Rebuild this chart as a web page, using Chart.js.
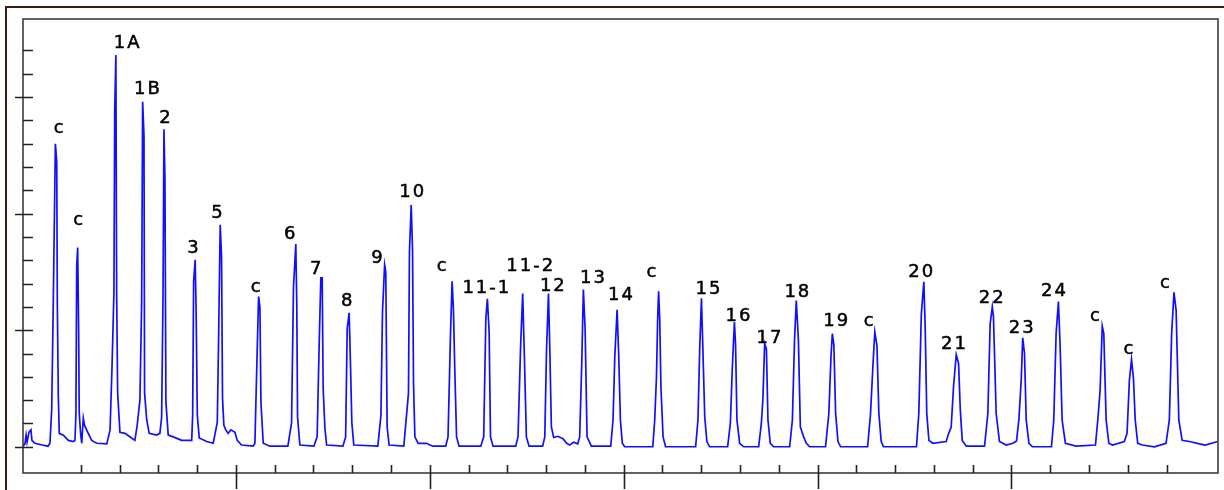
<!DOCTYPE html>
<html>
<head>
<meta charset="utf-8">
<script src="https://cdn.jsdelivr.net/npm/chart.js@4.4.1/dist/chart.umd.min.js"></script>
<style>
  html, body { margin: 0; padding: 0; background: #fff; }
  #wrap { width: 1224px; height: 490px; position: relative; }
</style>
</head>
<body>
<div id="wrap"><canvas id="myChart"></canvas></div>
<script>
// chromatogram trace: time (min) and detector signal
const traceTime = [
  -0.98, -0.88, -0.82, -0.77, -0.67, -0.57, -0.52, -0.36, 0, 0.31,
  0.41, 0.50, 0.58, 0.69, 0.76, 0.79, 0.84, 0.89, 1.10, 1.36, 1.61,
  1.70, 1.75, 1.79, 1.84, 1.89, 1.92, 1.99, 2.05, 2.13, 2.19, 2.30, 2.56, 2.82, 3.34,
  3.51, 3.61, 3.71, 3.75, 3.81, 3.85, 3.90, 4.02, 4.28, 4.62, 4.79,
  4.91, 5.05, 5.14, 5.19, 5.26, 5.29, 5.40, 5.53, 5.91, 6.08,
  6.17, 6.24, 6.29, 6.34, 6.39, 6.51, 6.77, 7.20, 7.63,
  7.72, 7.77, 7.82, 7.90, 7.95, 8.01, 8.11, 8.49, 8.83,
  9.04, 9.11, 9.19, 9.26, 9.31, 9.38, 9.48, 9.60, 9.74, 9.95, 10.07, 10.29, 10.89,
  10.98, 11.07, 11.17, 11.24, 11.29, 11.41, 11.75, 12.68,
  12.87, 12.97, 13.09, 13.14, 13.18, 13.30, 14.02,
  14.19, 14.29, 14.38, 14.45, 14.50, 14.59, 14.68, 15.52,
  15.66, 15.74, 15.84, 15.91, 15.98, 16.08, 17.32,
  17.48, 17.56, 17.67, 17.73, 17.80, 17.90, 18.66,
  18.90, 18.95, 19.04, 19.11, 19.16, 19.23, 19.40, 19.83, 20.15, 20.82,
  20.94, 21.07, 21.15, 21.22, 21.29, 21.38, 21.51, 22.63,
  22.78, 22.89, 22.97, 23.06, 23.13, 23.26, 24.43,
  24.55, 24.68, 24.79, 24.88, 24.98, 25.12, 25.82,
  25.93, 26.02, 26.12, 26.19, 26.27, 26.39, 26.60, 26.87, 27.06, 27.22, 27.42, 27.63,
  27.73, 27.84, 27.92, 28.01, 28.11, 28.33, 29.33,
  29.45, 29.54, 29.66, 29.74, 29.83, 29.93, 30.05, 31.50,
  31.60, 31.69, 31.75, 31.80, 31.86, 31.92, 32.03, 32.16, 33.71,
  33.83, 33.92, 34.01, 34.09, 34.18, 34.29, 34.43, 35.36,
  35.50, 35.60, 35.71, 35.77, 35.84, 35.98, 36.19, 36.96,
  37.10, 37.18, 37.27, 37.36, 37.44, 37.56, 37.73, 38.56,
  38.70, 38.81, 38.90, 39.01, 39.11, 39.28, 39.42, 39.59, 40.41,
  40.58, 40.69, 40.76, 40.84, 40.93, 41.05, 41.19, 42.58,
  42.73, 42.85, 42.95, 43.06, 43.16, 43.28, 43.40, 45.10,
  45.22, 45.35, 45.48, 45.55, 45.63, 45.74, 45.94, 46.63,
  46.76, 46.89, 47.01, 47.15, 47.27, 47.36, 47.46, 47.67, 48.61,
  48.78, 48.90, 49.01, 49.07, 49.21, 49.38, 49.73, 50.07, 50.26,
  50.38, 50.50, 50.58, 50.67, 50.76, 50.90, 51.08, 52.06,
  52.18, 52.30, 52.42, 52.51, 52.61, 52.78, 53.33, 54.33,
  54.45, 54.57, 54.68, 54.76, 54.88, 55.02, 55.21, 55.82,
  55.96, 56.08, 56.19, 56.29, 56.38, 56.51, 56.75, 57.37, 57.97,
  58.14, 58.26, 58.38, 58.49, 58.63, 58.80, 59.18, 59.69, 60.00, 60.63
];
const traceSignal = [
  0.1, 0.5, 2.0, 0.8, 2.5, 2.9, 1.1, 0.6, 0.3, 0.1,
  0.6, 6.3, 24.3, 52.0, 48.9, 24.6, 8.9, 2.3, 2.0, 1.1, 0.9,
  1.1, 5.8, 31.1, 34.2, 19.5, 5.8, 2.3, 0.6, 4.9, 3.7, 2.9, 1.1, 0.6, 0.5,
  2.9, 13.6, 26.5, 57.7, 67.2, 26.5, 9.3, 2.5, 2.3, 1.5, 1.1,
  3.7, 8.0, 24.8, 59.2, 53.4, 9.2, 4.6, 2.3, 2.0, 2.3,
  5.1, 25.5, 54.5, 46.0, 7.7, 2.0, 1.7, 1.1, 1.1,
  1.1, 5.4, 28.4, 32.1, 22.9, 5.4, 1.5, 0.9, 0.6,
  4.2, 19.0, 38.1, 32.5, 8.3, 3.7, 2.9, 2.3, 2.9, 2.5, 1.1, 0.3, 0.1,
  0.6, 12.8, 25.8, 23.9, 7.7, 0.6, 0.1, 0.1,
  4.1, 27.4, 34.8, 24.3, 5.1, 0.3, 0.1,
  1.7, 16.9, 29.0, 29.0, 10.1, 3.2, 0.3, 0.1,
  1.7, 20.3, 23.0, 14.0, 4.1, 0.3, 0.1,
  5.4, 23.1, 31.2, 30.0, 3.4, 0.3, 0.1,
  9.2, 33.4, 41.5, 33.7, 10.9, 1.7, 0.6, 0.6, 0.1, 0.1,
  1.7, 19.5, 28.4, 23.4, 13.1, 1.7, 0.1, 0.1,
  1.7, 22.0, 25.4, 19.7, 1.7, 0.1, 0.1,
  1.7, 16.9, 26.3, 15.2, 1.7, 0.1, 0.1,
  1.7, 16.6, 26.3, 16.6, 3.4, 1.6, 1.8, 1.4, 0.6, 0.3, 0.8, 0.5,
  1.7, 14.7, 27.0, 20.3, 1.7, 0.1, 0.1,
  4.6, 15.4, 23.5, 16.0, 4.6, 0.6, 0, 0,
  4.6, 12.0, 21.7, 26.7, 21.7, 10.3, 1.7, 0, 0,
  4.6, 16.8, 25.5, 16.0, 5.1, 0.9, 0, 0,
  4.0, 13.4, 21.4, 17.4, 4.6, 0.6, 0, 0,
  4.0, 8.3, 17.7, 16.8, 4.6, 0.6, 0, 0,
  4.6, 18.3, 25.1, 18.3, 3.4, 1.7, 0.6, 0, 0,
  5.7, 15.4, 19.4, 17.4, 5.7, 0.9, 0, 0,
  5.7, 13.7, 19.7, 17.4, 5.7, 0.9, 0, 0,
  5.7, 22.8, 28.3, 20.3, 5.7, 1.1, 0.6, 0.9,
  2.3, 3.4, 10.3, 15.8, 14.3, 6.3, 1.1, 0.1, 0.1,
  5.7, 21.1, 24.0, 22.3, 5.7, 0.9, 0.3, 0.6, 1.0,
  4.6, 11.4, 18.7, 16.0, 4.6, 0.6, 0, 0,
  4.6, 19.4, 24.9, 17.1, 4.6, 0.6, 0.1, 0.3,
  4.6, 9.7, 20.7, 19.4, 4.6, 0.6, 0.3, 0.9,
  2.3, 11.4, 15.0, 11.7, 4.6, 0.6, 0.3, 0, 0.6,
  4.6, 19.4, 26.5, 23.4, 4.6, 1.1, 0.9, 0.5, 0.3, 0.9
];

// peak names and where each name is written (time, signal)
const peakNames = ['c', 'c', '1A', '1B', '2', '3', '5', 'c', '6', '7', '8', '9', '10', 'c',
  '11-1', '11-2', '12', '13', '14', 'c', '15', '16', '17', '18', '19', 'c',
  '20', '21', '22', '23', '24', 'c', 'c', 'c'];
const labelTimes = [0.86, 1.87, 4.37, 5.41, 6.34, 7.78, 9.02, 11.02, 12.78, 14.12, 15.72, 17.27, 19.07, 20.62,
  22.89, 25.15, 26.32, 28.39, 29.83, 31.43, 34.35, 35.89, 37.49, 38.93, 40.94, 42.63,
  45.32, 47.01, 48.95, 50.50, 52.16, 54.31, 56.03, 57.92];
const labelHeights = [53.8, 38.1, 68.5, 60.6, 55.6, 33.3, 39.2, 26.6, 35.7, 29.7, 24.1, 31.5, 42.8, 30.1,
  26.3, 30.1, 26.7, 28.1, 25.1, 29.1, 26.2, 21.5, 17.8, 25.7, 20.7, 20.7,
  29.1, 16.7, 24.6, 19.6, 25.8, 21.5, 15.9, 27.3];

const points = traceTime.map((t, i) => ({ x: t, y: traceSignal[i] }));

// frame, tick marks and peak names
const decor = {
  id: 'decor',
  afterDraw(chart) {
    const { ctx, chartArea: a, scales: { x, y } } = chart;
    ctx.save();
    // outer frame
    ctx.strokeStyle = '#3a1c14';
    ctx.lineWidth = 2;
    ctx.beginPath();
    ctx.moveTo(6, 490);
    ctx.lineTo(6, 7);
    ctx.lineTo(1224, 7);
    ctx.stroke();
    // plot box
    ctx.strokeStyle = '#3c3c3c';
    ctx.lineWidth = 1.6;
    ctx.strokeRect(a.left, a.top, a.right - a.left, a.bottom - a.top);
    // ticks: every 2 units, long ones every 10
    ctx.strokeStyle = '#222';
    ctx.lineWidth = 1.6;
    const even = v => Math.abs(v / 2 - Math.round(v / 2)) < 1e-6;
    ctx.beginPath();
    y.ticks.forEach(t => {
      if (!even(t.value)) return;
      const py = Math.round(y.getPixelForValue(t.value)) + 0.5;
      const major = Math.abs(t.value % 10) < 1e-6;
      ctx.moveTo(a.left - (major ? 8 : 0), py);
      ctx.lineTo(a.left + 10, py);
    });
    x.ticks.forEach(t => {
      if (!even(t.value)) return;
      const px = Math.round(x.getPixelForValue(t.value)) + 0.5;
      const major = Math.abs(t.value % 10) < 1e-6;
      ctx.moveTo(px, a.bottom - 8);
      ctx.lineTo(px, a.bottom + (major ? 16 : 0));
    });
    ctx.stroke();
    // peak names, slightly heavier like the original print
    ctx.fillStyle = '#000';
    ctx.strokeStyle = '#000';
    ctx.lineWidth = 0.5;
    ctx.font = '18px "DejaVu Sans", sans-serif';
    ctx.letterSpacing = '2px';
    ctx.textAlign = 'center';
    ctx.textBaseline = 'alphabetic';
    peakNames.forEach((name, i) => {
      const px = x.getPixelForValue(labelTimes[i]) + 1;
      const py = y.getPixelForValue(labelHeights[i]);
      ctx.fillText(name, px, py);
      ctx.strokeText(name, px, py);
    });
    ctx.restore();
  }
};

const ctx = document.getElementById('myChart');
const myChart = new Chart(ctx, {
  type: 'line',
  data: {
    datasets: [{
      data: points,
      borderColor: '#1010ff',
      borderWidth: 1.7,
      pointRadius: 0,
      tension: 0,
      fill: false
    }]
  },
  options: {
    responsive: true,
    maintainAspectRatio: false,
    animation: false,
    layout: { padding: { left: 23, top: 19, right: 6, bottom: 17 } },
    scales: {
      x: { type: 'linear', min: -0.98, max: 60.65, display: false, ticks: { stepSize: 2 } },
      y: { type: 'linear', min: -4.5, max: 73.4, display: false, ticks: { stepSize: 2 } }
    },
    plugins: {
      legend: { display: false },
      tooltip: { enabled: false }
    }
  },
  plugins: [decor]
});
</script>
</body>
</html>
